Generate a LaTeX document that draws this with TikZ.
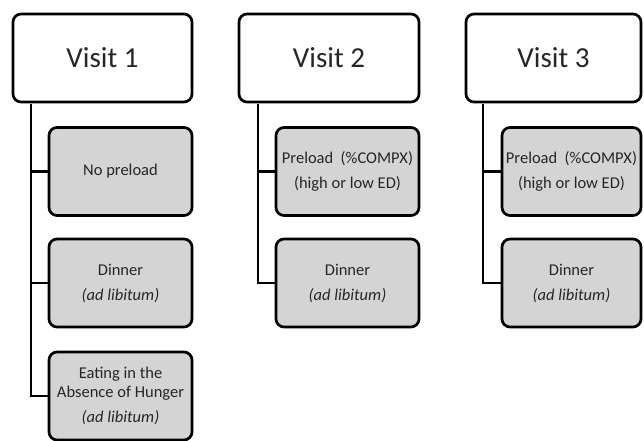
\documentclass[tikz,border=0pt]{standalone}
\usepackage{fontspec}
\setmainfont{Carlito}
\usepackage{tikz}

\begin{document}
\begin{tikzpicture}[x=1pt, y=-1pt,
  visit/.style={draw, rounded corners=8pt, line width=2.7pt, fill=white,
    minimum height=88pt, inner sep=0pt, font=\fontsize{29}{34}\selectfont},
  step box/.style={draw, rounded corners=8pt, line width=2.7pt, fill=boxgray,
    minimum height=88pt, inner sep=0pt, align=center,
    font=\fontsize{16.5}{19}\selectfont},
  link/.style={line width=2.7pt, line join=miter},
  every node/.style={text=black!85}
]
\colorlet{boxgray}{black!17}
\useasboundingbox (0,0) rectangle (644,440);

% visit headers
\node[visit, minimum width=179pt] (visit1) at (102.5,58) {Visit 1};
\node[visit, minimum width=180pt] (visit2) at (329,58) {Visit 2};
\node[visit, minimum width=175pt] (visit3) at (553.5,58) {Visit 3};

% trunk points under each header
\coordinate (trunk1) at (31,104);
\coordinate (trunk2) at (258,104);
\coordinate (trunk3) at (483,104);

% visit 1
\node[step box, minimum width=143pt] (pre1) at (120.5,171.5) {No preload};
\node[step box, minimum width=143pt] (din1) at (120.5,283) {Dinner\\[6pt]\textit{(ad libitum)}};
\node[step box, minimum width=143pt] (eah1) at (120.5,396)
  {Eating in the\\Absence of Hunger\\[6pt]\textit{(ad libitum)}};

% visit 2
\node[step box, minimum width=143pt] (pre2) at (347.5,171.5) {Preload\ \ (\%COMPX)\\[6pt](high or low ED)};
\node[step box, minimum width=143pt] (din2) at (347.5,283) {Dinner\\[6pt]\textit{(ad libitum)}};

% visit 3
\node[step box, minimum width=139pt] (pre3) at (571.5,171.5) {Preload\ \ (\%COMPX)\\[6pt](high or low ED)};
\node[step box, minimum width=139pt] (din3) at (571.5,283) {Dinner\\[6pt]\textit{(ad libitum)}};

\draw[link] (trunk1) |- (eah1.west);
\draw[link] (trunk1) |- (din1.west);
\draw[link] (trunk1) |- (pre1.west);
\draw[link] (trunk2) |- (din2.west);
\draw[link] (trunk2) |- (pre2.west);
\draw[link] (trunk3) |- (din3.west);
\draw[link] (trunk3) |- (pre3.west);
\end{tikzpicture}
\end{document}
